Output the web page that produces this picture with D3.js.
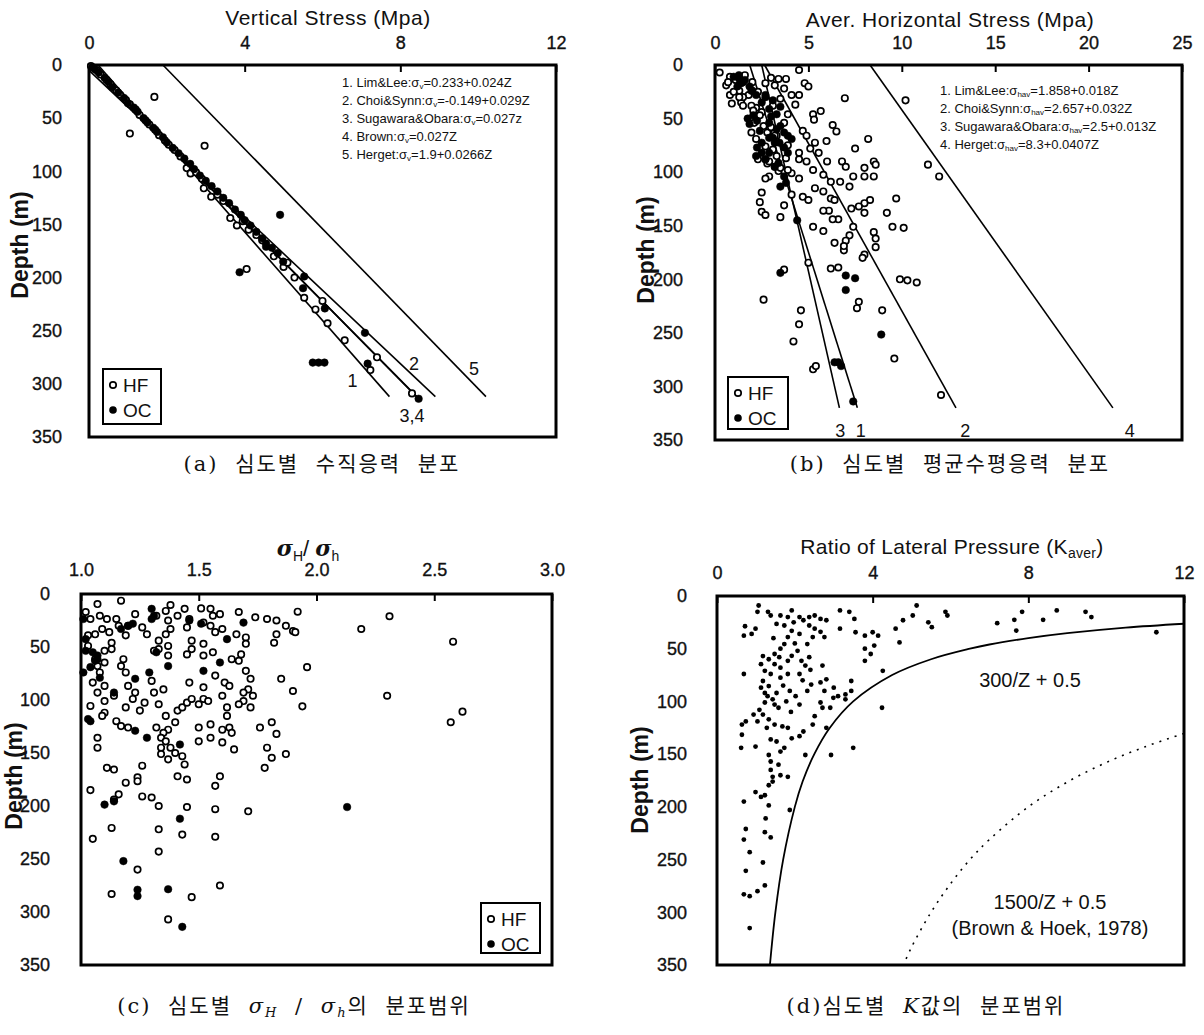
<!DOCTYPE html>
<html>
<head>
<meta charset="utf-8">
<script src="https://cdn.jsdelivr.net/npm/d3@7"></script>
<style>
  body { margin: 0; background: #fff; }
  svg text { font-family: "Liberation Sans", Arial, sans-serif; fill: #111; }
  .cap { font-family: "DejaVu Serif", "Noto Sans CJK KR", serif; font-size: 21px; }
</style>
</head>
<body>
<svg id="fig" width="1204" height="1035"></svg>
<script>
// ---------- data ----------
const depthTicks = [0, 50, 100, 150, 200, 250, 300, 350];

// (a) vertical stress [MPa, depth m]
const hfA = [[0.05,1],[0.2,5],[0.3,9],[0.45,14],[0.55,18],[0.7,24],[0.8,28],[0.95,33],[1.05,37],[1.2,42],
  [1.3,47],[1.45,52],[1.55,56],[1.7,61],[1.8,66],[1.95,71],[2.05,75],[2.2,80],[2.35,86],[2.51,97],[2.61,102],
  [2.75,101],[2.9,107],[2.95,116],[3.14,124],[3.3,122],[3.45,128],[3.63,144],[3.8,151],[3.95,147],[4.1,155],
  [4.3,160],[4.45,165],[1.68,30],[1.05,64.5],[2.97,76],[4.05,192],[4.75,180],[5.0,190],[5.1,186],[5.28,200],
  [5.53,219],[5.82,230],[6.0,222],[6.13,243],[6.57,259],[7.4,275],[7.23,287],[8.3,309]];
const ocA = [[0.08,2],[0.15,4],[0.25,7],[0.4,12],[0.5,16],[0.6,21],[0.75,26],[0.9,31],[1.0,36],[1.15,40],
  [1.25,44],[1.4,50],[1.5,54],[1.65,59],[1.75,63],[1.9,68],[2.0,73],[2.15,78],[2.3,83],[2.45,88],[2.6,93],
  [2.7,98],[2.85,104],[3.0,109],[3.15,114],[3.3,119],[3.45,125],[3.6,130],[3.75,136],[3.9,141],[4.0,146],
  [4.15,151],[4.3,157],[4.45,163],[4.55,168],[4.7,172],[4.85,177],[4.99,185],[4.91,141],[3.87,195],
  [5.75,280],[5.9,280],[6.05,280],[5.53,199],[5.5,210],[6.06,229],[7.09,252],[7.16,281],[8.47,314],[4.55,171]];
const linesA = [
  { id: "1", pts: [[0.233,0],[7.72,312]] },
  { id: "2", pts: [[0,5],[8.9,312]] },
  { id: "3", pts: [[0,0],[8.42,312]] },
  { id: "4", pts: [[0,0],[8.42,312]] },
  { id: "5", pts: [[1.9,0],[10.2,312]] }
];
const labelsA = [["1",6.77,296],["2",8.35,280],["5",9.89,285],["3,4",8.3,329]];
const legendA = ["Lim&Lee:", "Choi&Synn:", "Sugawara&Obara:", "Brown:", "Herget:"];
const legendAEq = ["=0.233+0.024Z", "=-0.149+0.029Z", "=0.027z", "=0.027Z", "=1.9+0.0266Z"];

// (b) average horizontal stress [MPa, depth m]
const hfB = [[0.25,7],[0.8,11],[0.6,19],[1.1,14],[1.6,9.5],[2.0,16],[0.8,28],[0.9,36],[1.4,35],[1.8,28],
  [2.3,25],[2.7,17],[3.0,12],[3.4,13],[3.8,13],[3.2,19],[3.7,22],[4.1,28],[3.5,31.5],[4.5,4.7],[4.8,17],
  [5.0,20],[4.5,28],[4.3,37],[3.9,46],[3.7,54],[2.5,44],[2.1,54],[3.1,38],[6.95,31],[5.66,43],[5.25,46],
  [5.3,51],[6.3,56],[6.5,62],[4.7,61.5],[4.9,66],[5.35,72.5],[5.97,71],[8.2,69],[7.5,78],[5.1,78],[5.55,82],
  [4.5,82],[3.8,87],[4.5,88],[4.9,90],[6.0,90],[6.8,90],[7.0,95],[7.4,104],[8.0,96],[8.0,104],[8.5,90],
  [8.6,93],[8.5,104],[11.4,93],[12.0,104],[10.2,33],[5.25,98],[5.8,102.5],[6.2,109],[6.7,109],[7.2,113.5],
  [5.35,115],[5.8,118],[6.2,124.6],[6.4,126],[4.7,123],[5.0,126],[4.1,121],[4.5,106],[4.1,101],[3.7,99],
  [2.9,104],[2.7,106],[3.4,99],[8.3,126],[8.0,129],[7.7,132],[8.0,138],[7.3,134],[9.7,124.6],[9.2,138],
  [9.5,151],[10.1,152],[8.5,156],[8.6,162],[8.6,170],[8.0,177],[7.9,180],[7.4,151],[7.2,159],[7.0,164],
  [6.9,173],[6.9,169],[6.6,144],[6.3,144],[6.1,136],[5.8,136],[5.8,155],[5.25,151],[6.4,166],[6.2,190],
  [6.6,189],[9.9,200],[10.3,201],[10.8,203],[7.7,221],[7.6,227],[8.95,229],[9.6,274],[12.1,308],[5.0,184.5],
  [4.6,229],[4.5,242],[4.2,258],[5.25,284],[5.4,281],[2.6,219],[3.7,191],[2.5,119],[2.4,128],[2.5,137],
  [2.7,140],[3.5,142],[3.7,131],[1.3,24],[1.5,30],[2.2,40],[2.9,60],[3.3,66],[3.9,75],[2.8,92],
  [0.7,16],[1.0,25],[1.3,30],[1.5,38],[1.95,38],[2.05,42.6],[2.4,47],[2.6,57],[2.8,63],[3.0,58],[3.2,66],
  [1.95,63],[2.2,69],[2.7,76],[3.1,79],[3.3,85],[2.3,88],[2.9,90],[3.2,95],[3.5,96],[3.9,98]];
const ocB = [[1.0,11],[1.3,13],[1.6,14],[1.2,20],[1.85,20],[2.2,28],[2.5,35],[2.9,41],[3.3,46],[1.75,50],
  [1.85,55],[2.25,52],[2.9,54],[3.5,57],[3.7,63],[3.9,66],[4.1,69],[2.25,77],[2.5,82],[2.9,82],[2.5,72.5],
  [3.1,68],[3.4,91.5],[3.7,104],[3.8,110],[3.5,113.5],[4.4,145],[6.6,277.5],[6.4,277.5],[6.75,281],
  [7.4,314],[3.5,194],[7.0,196.5],[7.5,199],[7.0,210],[8.9,251.6],[3.9,82],[3.2,72.5],[1.4,17],[2.0,24],
  [2.7,30],[3.0,48],[3.3,60],[2.7,88],[3.2,95],[1.28,9.5],[1.5,16],[1.95,24],[2.7,28],[3.1,33],[3.5,39],
  [2.05,47],[2.4,61.5],[2.9,68],[3.45,72.5],[3.7,77],[2.2,85],[2.7,88]];
const linesB = [
  { id: "1", pts: [[1.858,0],[7.62,320]] },
  { id: "2", pts: [[2.657,0],[12.9,320]] },
  { id: "3", pts: [[2.5,0],[6.66,320]] },
  { id: "4", pts: [[8.3,0],[21.3,320]] }
];
const labelsB = [["3",6.7,341],["1",7.8,341],["2",13.4,341],["4",22.2,341]];
const legendB = ["Lim&Lee:", "Choi&Synn:", "Sugawara&Obara:", "Herget:"];
const legendBEq = ["=1.858+0.018Z", "=2.657+0.032Z", "=2.5+0.013Z", "=8.3+0.0407Z"];

// (c) sigma_H / sigma_h [ratio, depth m]
const hfC = [[1.07,9.5],[1.17,6.3],[1.02,17],[1.04,23.6],[1.08,20.5],[1.11,23.6],[1.15,23.6],[1.16,30],
  [1.12,36],[1.09,33],[1.06,38],[1.13,46],[1.13,52],[1.1,53.6],[1.06,61.5],[1.03,39],[1.03,49],[1.23,19],
  [1.2,30],[1.19,39],[1.26,31.5],[1.28,38],[1.32,20.5],[1.36,16],[1.38,10.4],[1.37,25],[1.41,20.5],[1.44,14],
  [1.46,23.6],[1.45,31.5],[1.38,33],[1.36,38],[1.33,44],[1.33,52],[1.37,49],[1.37,58],[1.31,53.6],[1.51,13.6],
  [1.55,14],[1.56,20.5],[1.59,19],[1.52,27],[1.55,30],[1.57,36],[1.6,33],[1.47,44],[1.47,52],[1.45,57],
  [1.52,47],[1.52,58],[1.56,55],[1.67,17],[1.66,38],[1.7,41],[1.7,47],[1.68,57],[1.64,61.5],[1.67,63],
  [1.7,72.5],[1.72,80],[1.71,90],[1.69,93],[1.73,96],[1.69,101],[1.67,104],[1.72,107],[1.74,22],[1.79,23.6],
  [1.83,25],[1.87,30],[1.9,35],[1.91,36],[1.83,38],[1.82,46],[1.92,16.7],[1.96,69],[1.85,80],[1.9,91.5],
  [1.94,106],[2.19,33],[2.31,21],[2.58,45],[2.3,96],[2.57,121],[2.62,111],[1.07,68],[1.1,64.6],[1.08,74],
  [1.05,83.6],[1.07,93],[1.1,86.7],[1.1,101],[1.14,96],[1.04,105.6],[1.1,112],[1.09,115],[1.15,120],
  [1.17,124.6],[1.2,126],[1.18,61.5],[1.17,68],[1.19,74],[1.2,86.7],[1.23,93],[1.22,99],[1.19,107],[1.25,110],
  [1.27,102.5],[1.31,93],[1.3,82],[1.35,90],[1.33,104],[1.36,115],[1.37,128],[1.4,121],[1.41,110],[1.43,107],
  [1.45,102.5],[1.47,99],[1.5,104],[1.52,99],[1.54,101],[1.46,83.6],[1.52,88],[1.57,77],[1.61,83.6],[1.6,96],
  [1.63,86.7],[1.62,107],[1.62,115],[1.6,128],[1.63,126],[1.64,131],[1.6,140],[1.55,123],[1.55,135.6],
  [1.5,126],[1.5,139],[1.65,146.6],[1.76,126],[1.81,121],[1.83,132],[1.79,145],[1.81,154.5],[1.78,164],
  [1.87,151],[1.32,126],[1.35,131],[1.34,135.6],[1.36,139],[1.34,145],[1.38,145],[1.34,151],[1.37,156],
  [1.4,150],[1.43,153],[1.44,160.8],[1.07,135.6],[1.07,145],[1.11,164],[1.14,165.6],[1.26,162],[1.24,173],
  [1.24,176.6],[1.19,178],[1.16,189],[1.14,194],[1.26,191],[1.3,192],[1.04,185],[1.33,200],[1.41,172],
  [1.45,175],[1.59,172],[1.57,181],[1.45,201],[1.57,203],[1.71,205],[1.05,231],[1.13,220.7],[1.33,222],
  [1.43,227],[1.57,229],[1.33,243],[1.24,260],[1.59,275],[1.13,283],[1.47,286],[1.37,307]];
const ocC = [[1.3,14],[1.31,20.5],[1.3,23.6],[1.2,30],[1.22,28],[1.17,33],[1.01,23.6],[1.02,42.6],[1.02,53.6],
  [1.05,55],[1.07,61.5],[1.07,58],[1.04,69],[1.01,74],[1.08,79],[1.14,93],[1.04,120],[1.23,80],[1.29,74],
  [1.37,68],[1.32,55],[1.51,28],[1.62,42.6],[1.59,64.6],[1.69,27],[1.52,72.5],[1.23,129],[1.28,135.6],
  [1.42,142],[1.1,198.7],[1.14,195.6],[1.42,212],[1.18,252],[1.24,279],[1.24,285],[1.37,278.5],[1.43,314],
  [2.13,201],[1.03,118],[1.06,63],[1.46,25]];

// (d) ratio of lateral pressure K [K, depth m]
const kD = [[1.07,9],[1.04,15],[0.72,28.7],[0.99,31],[0.69,37.6],[0.89,36],[1.31,15],[1.38,18.5],[1.63,18.5],
  [1.92,13.7],[1.82,20],[1.53,26.5],[1.73,28],[1.97,25],[2.12,20],[2.22,23],[2.37,20],[2.51,18.5],[2.66,21.7],
  [2.81,23],[2.37,28],[2.51,31],[2.66,34],[2.76,39],[2.46,39],[2.32,45.6],[2.12,36],[1.92,33],[1.82,39],
  [1.73,45.6],[1.63,50],[1.48,55],[1.33,60],[1.18,57],[1.13,64.7],[1.23,71],[1.48,64.7],[1.63,68],[1.82,61.5],
  [1.92,56.7],[2.07,52],[2.17,61.5],[2.37,58],[2.27,66],[2.12,74],[1.82,74],[1.63,77.5],[1.38,74],[1.18,80.6],
  [1.13,87],[1.23,92],[1.33,85.4],[1.53,92],[1.43,98],[1.48,103],[1.23,101],[1.09,108],[0.94,112.5],[1.04,119],
  [1.18,112.5],[1.33,117],[1.58,106],[1.78,100],[1.87,90],[2.02,95],[2.12,103],[2.32,90],[2.42,84],[2.66,82],
  [2.81,79],[2.71,66],[2.76,90],[3.0,87],[2.99,96.6],[3.11,95],[3.3,93.4],[3.45,90],[3.45,80.6],[3.3,98],
  [2.71,106],[2.91,106],[2.66,101],[2.51,114],[2.46,122],[2.22,128.5],[2.12,133],[1.92,135],[1.82,125],
  [1.68,123.7],[1.48,122],[1.28,125],[1.38,136],[1.53,138],[1.73,144],[1.63,147.6],[1.33,150.8],[1.38,157],
  [1.58,160],[1.38,165],[1.43,171.5],[1.63,170],[1.82,171.5],[1.43,176],[1.33,179.5],[0.99,186],[1.13,190.6],
  [1.23,189],[1.33,198.6],[0.69,195],[1.25,211],[0.74,221],[1.23,224],[1.38,229],[0.69,231],[0.84,243],
  [1.18,252.8],[0.74,260.7],[1.23,274.5],[1.04,280],[0.69,283],[0.84,284.7],[0.84,315],[0.64,131.6],[0.62,144],
  [0.64,122],[0.74,119],[0.69,74],[0.99,142.8],[1.87,203],[2.27,150.8],[2.81,125],[2.93,150.8],[3.5,144],
  [4.24,106],[4.26,71],[3.16,13.7],[3.4,15],[3.53,21.7],[3.16,31],[3.56,34.4],[3.8,37.6],[4.0,34.4],[4.14,37.6],
  [3.8,50],[3.95,55],[4.04,47],[3.8,61.5],[4.59,31],[4.78,23],[5.03,18.5],[5.13,9],[4.69,44],[5.43,25],
  [5.52,29.6],[5.87,15],[5.92,18.5],[7.2,25.8],[7.64,22.6],[7.69,32.8],[7.84,15],[8.38,22.6],[8.73,13.7],
  [9.47,15],[9.62,20],[11.29,34.4],[1.45,40],[1.6,58],[2.0,45],[2.2,80],[1.9,110],[2.4,70],[1.3,95],[1.7,85]];
const curve300 = [[12,26.3],[10.5,30],[9,35.3],[8,40],[7,46],[6.5,50],[5.5,60],[4.5,75],[3.5,100],[2.9,125],
  [2.5,150],[2.2,176],[2.0,200],[1.7,250],[1.5,300],[1.36,350]];
const curve1500 = [[12,130.4],[11,143],[10,158],[9,176.5],[8,200],[7,231],[6.5,250],[6,273],[5.5,300],[5,333],[4.79,350]];

// ---------- drawing ----------
const svg = d3.select("#fig");
const line = (x, y) => d3.line().x(d => x(d[0])).y(d => y(d[1]));

function drawPanel(p) {
  const x = d3.scaleLinear().domain(p.xDomain).range([p.left, p.right]);
  const y = d3.scaleLinear().domain([0, 350]).range([p.top, p.bottom]);
  const g = svg.append("g");

  const ax = g.append("g").attr("transform", `translate(0,${p.top})`)
    .call(d3.axisTop(x).tickValues(p.xTicks).tickSize(-7).tickPadding(p.padTop).tickFormat(p.fmt));
  ax.select(".domain").remove();
  ax.selectAll("line").attr("stroke-width", 2);
  ax.attr("font-size", p.tickSize).attr("font-family", p.tickFamily);
  ax.selectAll("text").attr("fill", "#111").attr("stroke", "#111").attr("stroke-width", 0.35);

  const ay = g.append("g").attr("transform", `translate(${p.left},0)`)
    .call(d3.axisLeft(y).tickValues(depthTicks).tickSize(0).tickPadding(p.padLeft).tickFormat(d3.format("d")));
  ay.select(".domain").remove();
  ay.attr("font-size", 18).attr("font-family", "Liberation Sans, Arial, sans-serif");
  ay.selectAll("text").attr("fill", "#111").attr("stroke", "#111").attr("stroke-width", 0.35);

  g.append("rect").attr("x", p.left).attr("y", p.top)
    .attr("width", p.right - p.left).attr("height", p.bottom - p.top)
    .attr("fill", "none").attr("stroke", "#000").attr("stroke-width", 3);

  g.append("text").attr("transform", `translate(${p.yLabel[0]},${p.yLabel[1]}) rotate(-90)`)
    .attr("text-anchor", "middle").attr("dominant-baseline", "central")
    .attr("font-size", 23).attr("font-weight", "bold").text("Depth (m)");
  return { g, x, y };
}

function points(P, data, filled, r) {
  P.g.append("g").selectAll("circle").data(data).join("circle")
    .attr("cx", d => P.x(d[0])).attr("cy", d => P.y(d[1]))
    .attr("r", r)
    .attr("fill", filled ? "#000" : "#fff")
    .attr("stroke", "#000").attr("stroke-width", filled ? 0.5 : 1.7);
}

function hfocLegend(g, x0, y0, w, h) {
  g.append("rect").attr("x", x0).attr("y", y0).attr("width", w).attr("height", h)
    .attr("fill", "#fff").attr("stroke", "#000").attr("stroke-width", 2);
  g.append("circle").attr("cx", x0 + 10).attr("cy", y0 + 16).attr("r", 3.2)
    .attr("fill", "#fff").attr("stroke", "#000").attr("stroke-width", 1.7);
  g.append("circle").attr("cx", x0 + 10).attr("cy", y0 + 41).attr("r", 3.8).attr("fill", "#000");
  [["HF", 16], ["OC", 41]].forEach(([t, dy]) =>
    g.append("text").attr("x", x0 + 20).attr("y", y0 + dy + 7).attr("font-size", 19).text(t));
}

function eqLegend(g, x0, y0, names, eqs, sub) {
  names.forEach((n, i) => {
    const t = g.append("text").attr("x", x0).attr("y", y0 + i * 18).attr("font-size", 13);
    t.append("tspan").text(`${i + 1}.  ${n}σ`);
    t.append("tspan").attr("font-size", 8).attr("dy", 2).text(sub);
    t.append("tspan").attr("dy", -2).text(eqs[i]);
  });
}

// (a)
const A = drawPanel({ left: 89, right: 556, top: 65, bottom: 437, xDomain: [0, 12], xTicks: [0, 4, 8, 12],
  padTop: 16, padLeft: 27, tickSize: 18, tickFamily: "Liberation Sans, Arial, sans-serif",
  fmt: d3.format("d"), yLabel: [20, 245] });
linesA.forEach(l => A.g.append("path").attr("d", line(A.x, A.y)(l.pts))
  .attr("fill", "none").attr("stroke", "#000").attr("stroke-width", 1.6));
points(A, hfA, false, 3.2);
points(A, ocA, true, 3.8);
labelsA.forEach(([t, sx, dz]) => A.g.append("text").attr("x", A.x(sx)).attr("y", A.y(dz) + 7)
  .attr("text-anchor", "middle").attr("font-size", 18).text(t));
eqLegend(A.g, 342, 87, legendA, legendAEq, "v");
hfocLegend(A.g, 103, 369, 58, 55);
A.g.append("text").attr("x", 328).attr("y", 25).attr("text-anchor", "middle").attr("font-size", 21)
  .attr("letter-spacing", 0.5).text("Vertical Stress (Mpa)");

// (b)
const B = drawPanel({ left: 715, right: 1182, top: 65, bottom: 440, xDomain: [0, 25], xTicks: [0, 5, 10, 15, 20, 25],
  padTop: 16, padLeft: 32, tickSize: 18, tickFamily: "Liberation Sans, Arial, sans-serif",
  fmt: d3.format("d"), yLabel: [646, 250] });
linesB.forEach(l => B.g.append("path").attr("d", line(B.x, B.y)(l.pts))
  .attr("fill", "none").attr("stroke", "#000").attr("stroke-width", 1.6));
points(B, hfB, false, 3.2);
points(B, ocB, true, 3.8);
labelsB.forEach(([t, sx, dz]) => B.g.append("text").attr("x", B.x(sx)).attr("y", B.y(dz) + 7)
  .attr("text-anchor", "middle").attr("font-size", 18).text(t));
eqLegend(B.g, 940, 95, legendB, legendBEq, "hav");
hfocLegend(B.g, 728, 377, 60, 52);
B.g.append("text").attr("x", 950).attr("y", 27).attr("text-anchor", "middle").attr("font-size", 21)
  .attr("letter-spacing", 0.5).text("Aver. Horizontal Stress (Mpa)");

// (c)
const C = drawPanel({ left: 81, right: 552, top: 594, bottom: 965, xDomain: [1, 3], xTicks: [1, 1.5, 2, 2.5, 3],
  padTop: 18, padLeft: 31, tickSize: 18, tickFamily: "DejaVu Sans, sans-serif",
  fmt: d3.format(".1f"), yLabel: [14, 776] });
points(C, hfC, false, 3.2);
points(C, ocC, true, 3.8);
hfocLegend(C.g, 481, 903, 59, 50);
const tc = C.g.append("text").attr("x", 308).attr("y", 556).attr("text-anchor", "middle").attr("font-size", 22);
tc.append("tspan").attr("font-family", "DejaVu Serif").attr("font-style", "italic").attr("font-weight", "bold").text("σ");
tc.append("tspan").attr("font-size", 14).attr("dy", 5).text("H");
tc.append("tspan").attr("dy", -5).text("/ ");
tc.append("tspan").attr("font-family", "DejaVu Serif").attr("font-style", "italic").attr("font-weight", "bold").text("σ");
tc.append("tspan").attr("font-size", 14).attr("dy", 5).text("h");

// (d)
const D = drawPanel({ left: 717, right: 1184, top: 596, bottom: 965, xDomain: [0, 12], xTicks: [0, 4, 8, 12],
  padTop: 17, padLeft: 30, tickSize: 18, tickFamily: "Liberation Sans, Arial, sans-serif",
  fmt: d3.format("d"), yLabel: [640, 780] });
D.g.append("path").attr("d", line(D.x, D.y).curve(d3.curveCatmullRom)(curve300))
  .attr("fill", "none").attr("stroke", "#000").attr("stroke-width", 1.8);
D.g.append("path").attr("d", line(D.x, D.y).curve(d3.curveCatmullRom)(curve1500))
  .attr("fill", "none").attr("stroke", "#000").attr("stroke-width", 1.6).attr("stroke-dasharray", "2,6");
D.g.append("g").selectAll("circle").data(kD).join("circle")
  .attr("cx", d => D.x(d[0])).attr("cy", d => D.y(d[1])).attr("r", 2.4).attr("fill", "#000");
D.g.append("text").attr("x", 1030).attr("y", 687).attr("text-anchor", "middle").attr("font-size", 20).text("300/Z + 0.5");
D.g.append("text").attr("x", 1050).attr("y", 909).attr("text-anchor", "middle").attr("font-size", 20).text("1500/Z + 0.5");
D.g.append("text").attr("x", 1050).attr("y", 935).attr("text-anchor", "middle").attr("font-size", 20).text("(Brown & Hoek, 1978)");
const td = D.g.append("text").attr("x", 952).attr("y", 554).attr("text-anchor", "middle").attr("font-size", 21).attr("letter-spacing", 0.3);
td.append("tspan").text("Ratio of Lateral Pressure (K");
td.append("tspan").attr("font-size", 14).attr("dy", 4).text("aver");
td.append("tspan").attr("dy", -4).text(")");

// captions
svg.append("text").attr("class", "cap").attr("x", 322).attr("y", 471).attr("text-anchor", "middle")
  .attr("letter-spacing", 2).attr("word-spacing", 8).text("(a) 심도별 수직응력 분포");
svg.append("text").attr("class", "cap").attr("x", 950).attr("y", 471).attr("text-anchor", "middle")
  .attr("letter-spacing", 2).attr("word-spacing", 8).text("(b) 심도별 평균수평응력 분포");
const cc = svg.append("text").attr("class", "cap").attr("x", 294).attr("y", 1013).attr("text-anchor", "middle")
  .attr("letter-spacing", 2).attr("word-spacing", 8);
cc.append("tspan").text("(c) 심도별   ");
cc.append("tspan").attr("font-style", "italic").text("σ");
cc.append("tspan").attr("font-style", "italic").attr("font-size", 13).attr("dy", 4).text("H");
cc.append("tspan").attr("dy", -4).text(" / ");
cc.append("tspan").attr("font-style", "italic").text("σ");
cc.append("tspan").attr("font-style", "italic").attr("font-size", 13).attr("dy", 4).text("h");
cc.append("tspan").attr("dy", -4).text("의 분포범위");
const cd = svg.append("text").attr("class", "cap").attr("x", 926).attr("y", 1013).attr("text-anchor", "middle")
  .attr("letter-spacing", 2).attr("word-spacing", 8);
cd.append("tspan").text("(d)심도별   ");
cd.append("tspan").attr("font-style", "italic").text("K");
cd.append("tspan").text("값의 분포범위");
</script>
</body>
</html>
